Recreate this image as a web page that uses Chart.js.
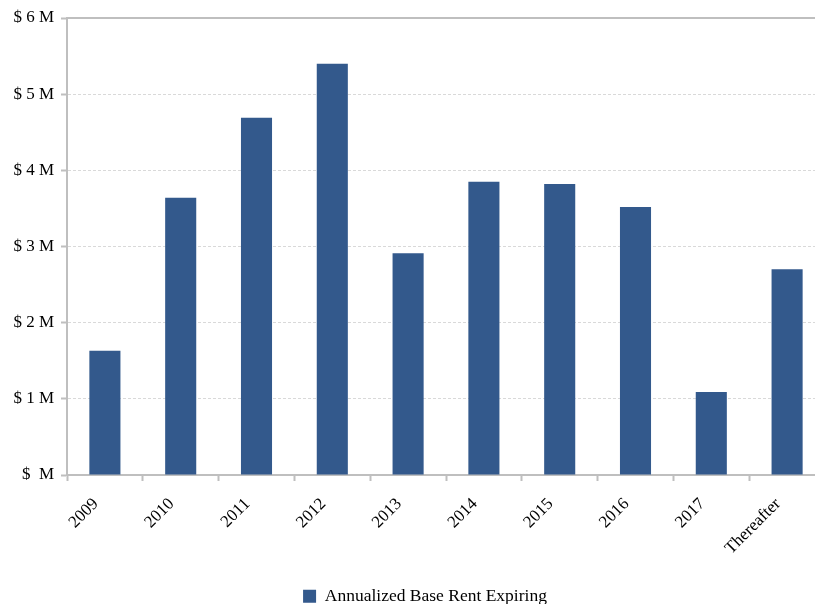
<!DOCTYPE html>
<html>
<head>
<meta charset="utf-8">
<script src="https://cdn.jsdelivr.net/npm/chart.js@4/dist/chart.umd.min.js"></script>
<style>
  html, body { margin: 0; padding: 0; background: #fff; overflow: hidden; }
  #wrap { width: 850px; height: 604px; }
</style>
</head>
<body>
<div id="wrap"><canvas id="myChart" width="850" height="604"></canvas></div>
<script>
// years of lease expiration
var labels = ["2009", "2010", "2011", "2012", "2013", "2014", "2015", "2016", "2017", "Thereafter"];
// annualized base rent expiring, $ millions
var rentExpiring = [1.63, 3.64, 4.69, 5.40, 2.91, 3.85, 3.82, 3.52, 1.09, 2.70];

var axisGray = '#bfbfbf';
var font = { family: '"Liberation Serif", "Times New Roman", serif', size: 17 };

// solid line along the top of the plot
var topLine = {
    id: 'topLine',
    afterLayout: function(chart) {
        // let the y labels use the left margin too
        chart.scales.y.left = 0;
    },
    afterDatasetsDraw: function(chart) {
        var a = chart.chartArea, c = chart.ctx;
        c.save();
        c.strokeStyle = axisGray;
        c.lineWidth = 2;
        c.beginPath();
        c.moveTo(a.left, a.top);
        c.lineTo(a.right, a.top);
        c.stroke();
        c.restore();
    }
};

var ctx = document.getElementById('myChart').getContext('2d');
var chart = new Chart(ctx, {
    type: 'bar',
    data: {
        labels: labels,
        datasets: [{
            label: "Annualized Base Rent Expiring",
            backgroundColor: '#33598c',
            data: rentExpiring,
            categoryPercentage: 1,
            barPercentage: 0.41
        }]
    },
    options: {
        responsive: false,
        animation: false,
        layout: { padding: { top: 18, right: 25, bottom: -11, left: 25 } },
        plugins: {
            tooltip: { enabled: false },
            legend: {
                position: 'bottom',
                labels: { color: '#000', font: { family: font.family, size: 17.5 }, boxWidth: 13, boxHeight: 13, padding: 4 }
            }
        },
        scales: {
            x: {
                afterFit: function(scale) { scale.height = 108.5; },
                grid: { drawOnChartArea: false, drawTicks: true, tickLength: 6, tickColor: axisGray, tickWidth: 2 },
                border: { color: axisGray, width: 2 },
                ticks: {
                    color: '#000',
                    font: font,
                    maxRotation: 45,
                    minRotation: 45,
                    padding: 4,
                    // trailing gap pushes the slanted text away from the tick
                    callback: function(v, i) { return labels[i] + '   '; }
                }
            },
            y: {
                min: 0,
                max: 6,
                afterFit: function(scale) { scale.width = 42; },
                ticks: {
                    stepSize: 1,
                    color: '#000',
                    font: font,
                    padding: 7,
                    callback: function(v) { return v === 0 ? '$  M' : '$ ' + v + ' M'; }
                },
                grid: {
                    color: function(c) { return c.tick && c.tick.value === 6 ? 'rgba(0,0,0,0)' : '#d9d9d9'; },
                    tickColor: axisGray,
                    tickWidth: 2,
                    tickLength: 6
                },
                border: { color: axisGray, width: 2, dash: [3, 2] }
            }
        }
    },
    plugins: [topLine]
});
</script>
</body>
</html>
